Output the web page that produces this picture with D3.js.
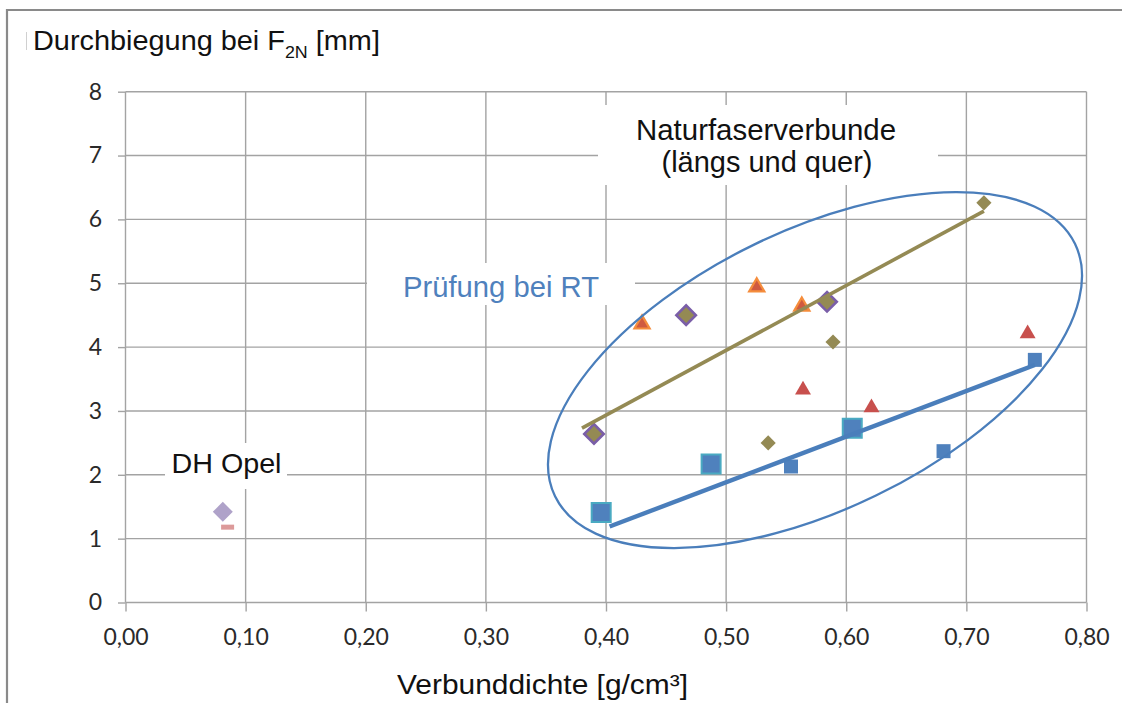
<!DOCTYPE html>
<html>
<head>
<meta charset="utf-8">
<script src="https://cdn.jsdelivr.net/npm/d3@7"></script>
<style>
  body { margin: 0; background: #fff; }
  svg { display: block; }
</style>
</head>
<body>
<svg id="chart" width="1122" height="703"></svg>
<script>
// Axis ticks
const xTicks = [0, 0.1, 0.2, 0.3, 0.4, 0.5, 0.6, 0.7, 0.8];
const yTicks = [0, 1, 2, 3, 4, 5, 6, 7, 8];

// Natural fibre composites – density [g/cm³] vs. deflection at F2N [mm]
const bigSquareX = [0.396, 0.4875, 0.605];
const bigSquareY = [1.41, 2.17, 2.73];
const squareX = [0.554, 0.681, 0.757];
const squareY = [2.13, 2.37, 3.80];
const triangleX = [0.564, 0.621, 0.751];
const triangleY = [3.33, 3.05, 4.21];
const outlinedTriangleX = [0.430, 0.5255, 0.563];
const outlinedTriangleY = [4.36, 4.94, 4.64];
const outlinedDiamondX = [0.390, 0.4667, 0.584];
const outlinedDiamondY = [2.64, 4.50, 4.71];
const diamondX = [0.535, 0.589, 0.7146];
const diamondY = [2.50, 4.08, 6.26];

// DH Opel reference material
const opelDiamondX = [0.081];
const opelDiamondY = [1.42];
const opelDashX = [0.085];
const opelDashY = [1.18];

// Trend lines (start / end)
const upperTrendX = [0.380, 0.7146];
const upperTrendY = [2.73, 6.13];
const lowerTrendX = [0.403, 0.757];
const lowerTrendY = [1.19, 3.72];

// Ellipse around the natural fibre group (centre in data units)
const groupCentreX = 0.574;
const groupCentreY = 3.64;

const svg = d3.select("#chart");
const W = 1122, H = 703;
const plot = { left: 125.5, right: 1086.5, top: 91.7, bottom: 602.5 };

const x = d3.scaleLinear().domain([0, 0.8]).range([plot.left, plot.right]);
const y = d3.scaleLinear().domain([0, 8]).range([plot.bottom, plot.top]);

const de = d3.formatLocale({ decimal: ",", thousands: ".", grouping: [3], currency: ["", " €"] });
const fmtX = de.format(".2f");

const gridColor = "#a3a3a3";
const tickFont = "Lato, 'Open Sans', sans-serif";
const textFont = "'Liberation Sans', Arial, sans-serif";

svg.append("rect").attr("width", W).attr("height", H).attr("fill", "#fff");

// chart frame (top and left edges visible)
svg.append("path")
  .attr("d", `M7,${H} L7,10 L${W},10`)
  .attr("fill", "none").attr("stroke", "#8a8a8a").attr("stroke-width", 2.2);

// gridlines
const grid = svg.append("g").attr("stroke", gridColor).attr("stroke-width", 1.4);
grid.selectAll("line.h").data(yTicks).join("line")
  .attr("x1", plot.left).attr("x2", plot.right)
  .attr("y1", d => y(d)).attr("y2", d => y(d));
grid.selectAll("line.v").data(xTicks).join("line")
  .attr("x1", d => x(d)).attr("x2", d => x(d))
  .attr("y1", plot.top).attr("y2", plot.bottom);

// axes (ticks + labels)
const yAxis = d3.axisLeft(y).tickValues(yTicks).tickSize(7.5).tickPadding(16).tickFormat(d3.format("d"));
const gy = svg.append("g").attr("transform", `translate(${plot.left},0)`).call(yAxis);
const xAxis = d3.axisBottom(x).tickValues(xTicks).tickSize(9).tickPadding(17).tickFormat(fmtX);
const gx = svg.append("g").attr("transform", `translate(0,${plot.bottom})`).call(xAxis);
[gx, gy].forEach(g => {
  g.select(".domain").remove();
  g.selectAll(".tick line").attr("stroke", gridColor).attr("stroke-width", 1.4);
  g.selectAll(".tick text").attr("fill", "#2a2a2a")
    .style("font-family", tickFont).style("font-size", "23px");
});

// annotation boxes (white background over grid)
function box(x0, y0, x1, y1) {
  svg.append("rect").attr("x", x0).attr("y", y0)
    .attr("width", x1 - x0).attr("height", y1 - y0).attr("fill", "#fff");
}
box(598, 105, 938, 185);
box(367, 263, 635, 305);
box(165, 443, 287, 489);

// marker helpers
const sym = (type, size) => d3.symbol().type(type).size(size)();
function markers(xs, ys, path, attrs, rotate) {
  const g = svg.append("g");
  const sel = g.selectAll("path").data(xs.map((v, i) => [v, ys[i]])).join("path")
    .attr("d", path)
    .attr("transform", d => `translate(${x(d[0])},${y(d[1])})` + (rotate ? ` rotate(${rotate})` : ""));
  Object.entries(attrs).forEach(([k, v]) => sel.attr(k, v));
  return sel;
}

// DH Opel
markers(opelDiamondX, opelDiamondY, sym(d3.symbolSquare, 200), { fill: "#afa2c9" }, 45);
svg.append("g").selectAll("rect").data(opelDashX.map((v, i) => [v, opelDashY[i]])).join("rect")
  .attr("x", d => x(d[0]) - 6.5).attr("y", d => y(d[1]) - 2.5)
  .attr("width", 13).attr("height", 5).attr("fill", "#dc9a9a");

// natural fibre series
markers(diamondX, diamondY, sym(d3.symbolSquare, 115), { fill: "#948a54" }, 45);
markers(outlinedDiamondX, outlinedDiamondY, sym(d3.symbolSquare, 190),
  { fill: "#948a54", stroke: "#7a5ea8", "stroke-width": 2.6 }, 45);
markers(triangleX, triangleY, sym(d3.symbolTriangle, 110), { fill: "#c8504d" });
markers(outlinedTriangleX, outlinedTriangleY, sym(d3.symbolTriangle, 100),
  { fill: "#cf5a40", stroke: "#f58d3c", "stroke-width": 2.2 });
markers(squareX, squareY, sym(d3.symbolSquare, 196), { fill: "#4f81bd" });
markers(bigSquareX, bigSquareY, sym(d3.symbolSquare, 361),
  { fill: "#4f81bd", stroke: "#4aaac2", "stroke-width": 2 });

// trend lines
const line = d3.line().x(d => x(d[0])).y(d => y(d[1]));
svg.append("path").datum(upperTrendX.map((v, i) => [v, upperTrendY[i]]))
  .attr("d", line).attr("fill", "none").attr("stroke", "#948a54").attr("stroke-width", 3.6);
svg.append("path").datum(lowerTrendX.map((v, i) => [v, lowerTrendY[i]]))
  .attr("d", line).attr("fill", "none").attr("stroke", "#4a7ebb").attr("stroke-width", 4.4);

// ellipse around the group
svg.append("ellipse")
  .attr("cx", 0).attr("cy", 0).attr("rx", 289).attr("ry", 139.5)
  .attr("transform", `translate(${x(groupCentreX)},${y(groupCentreY)}) rotate(-25.9)`)
  .attr("fill", "none").attr("stroke", "#4a7ebb").attr("stroke-width", 2.3);

// annotation texts
function label(txt, tx, ty, size, color, len) {
  const t = svg.append("text").attr("x", tx).attr("y", ty)
    .attr("text-anchor", "middle").attr("fill", color)
    .style("font-family", textFont).style("font-size", size + "px").text(txt);
  if (len) t.attr("textLength", len).attr("lengthAdjust", "spacingAndGlyphs");
  return t;
}
label("Naturfaserverbunde", 766, 140, 29, "#111", 260);
label("(längs und quer)", 767, 172, 29, "#111", 211);
label("Prüfung bei RT", 501, 297, 29, "#4f81bd", 196);
label("DH Opel", 226.5, 473, 28.5, "#111", 110);

// axis titles
const title = svg.append("text").attr("fill", "#111")
  .attr("transform", "translate(33,50) scale(1.05,1)")
  .style("font-family", textFont).style("font-size", "27.5px");
title.append("tspan").attr("x", 0).attr("y", 0).text("Durchbiegung bei F");
title.append("tspan").attr("dy", 8).style("font-size", "17px").text("2N");
title.append("tspan").attr("dy", -8).text(" [mm]");
svg.append("line").attr("x1", 26.5).attr("x2", 26.5).attr("y1", 32).attr("y2", 50)
  .attr("stroke", "#d0d0d0").attr("stroke-width", 1);

svg.append("text").attr("x", 397).attr("y", 694).attr("fill", "#111")
  .style("font-family", textFont).style("font-size", "28px")
  .attr("textLength", 291).attr("lengthAdjust", "spacingAndGlyphs")
  .text("Verbunddichte [g/cm³]");
</script>
</body>
</html>
